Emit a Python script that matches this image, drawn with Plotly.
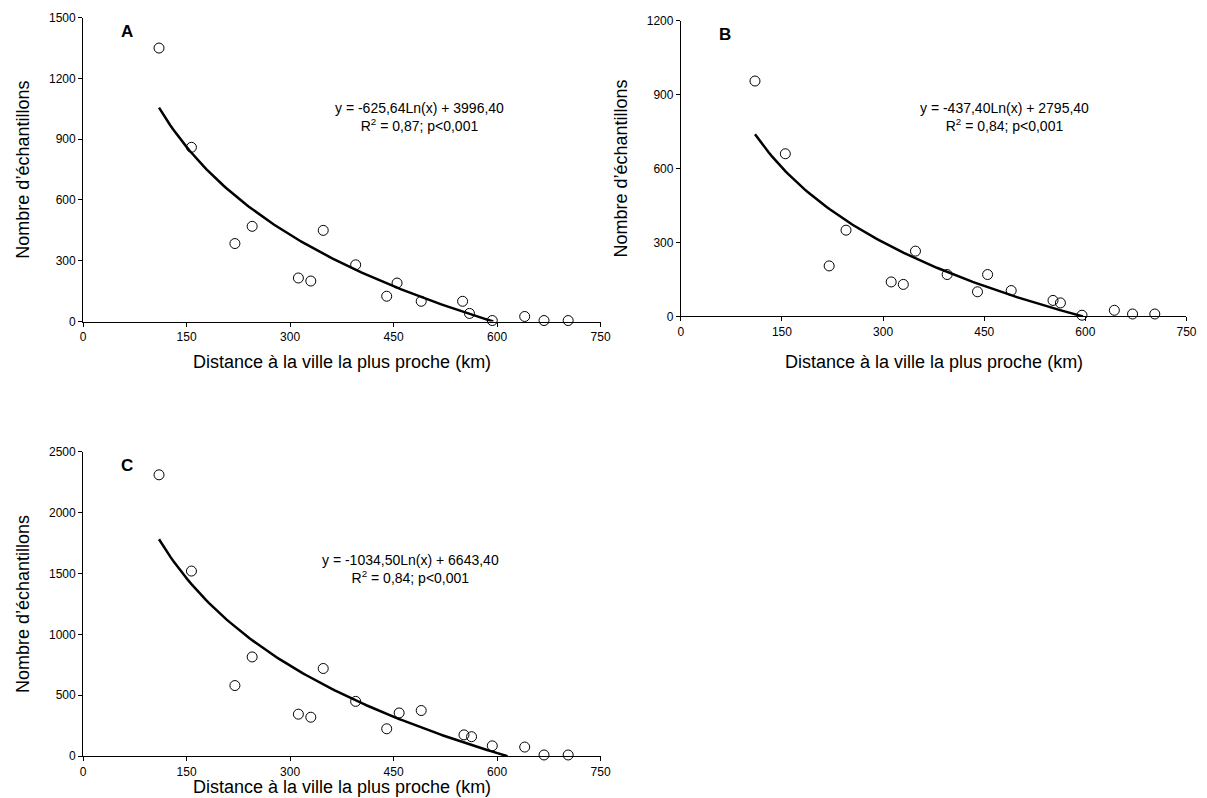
import numpy as np
import plotly.graph_objects as go

dist_a = [110, 157, 220, 245, 312, 330, 348, 395, 440, 455, 490, 550, 560, 593, 640, 668, 703]
count_a = [1350, 860, 385, 470, 215, 200, 450, 280, 125, 190, 100, 100, 40, 5, 25, 5, 5]
dist_b = [110, 155, 220, 245, 312, 330, 348, 395, 440, 455, 490, 552, 563, 595, 643, 670, 703]
count_b = [955, 660, 205, 350, 140, 130, 265, 170, 100, 170, 105, 65, 55, 5, 25, 10, 10]
dist_c = [110, 157, 220, 245, 312, 330, 348, 395, 440, 458, 490, 552, 563, 593, 640, 668, 703]
count_c = [2310, 1520, 580, 815, 345, 320, 720, 450, 225, 355, 375, 175, 160, 85, 75, 10, 10]

# trend coefficients as printed on the chart: y = a*Ln(x) + b
coef_a = (-625.64, 3996.40)
coef_b = (-437.40, 2795.40)
coef_c = (-1034.50, 6643.40)

panels = [
    dict(name="A", x=dist_a, y=count_a, coef=coef_a, ymax=1500, dtick=300,
         xd=[0.0604, 0.4938], yd=[0.609, 0.9966], ty=0.557,
         eq="y = -625,64Ln(x) + 3996,40", r2="R<sup>2</sup> = 0,87; p<0,001", ex=487, ey=1010),
    dict(name="B", x=dist_b, y=count_b, coef=coef_b, ymax=1200, dtick=300,
         xd=[0.561, 0.9845], yd=[0.6155, 0.9928], ty=0.557,
         eq="y = -437,40Ln(x) + 2795,40", r2="R<sup>2</sup> = 0,84; p<0,001", ex=480, ey=810),
    dict(name="C", x=dist_c, y=count_c, coef=coef_c, ymax=2500, dtick=500,
         xd=[0.0604, 0.4938], yd=[0.0546, 0.443], ty=0.0,
         eq="y = -1034,50Ln(x) + 6643,40", r2="R<sup>2</sup> = 0,84; p<0,001", ex=475, ey=1540),
]

fig = go.Figure()
for i, p in enumerate(panels):
    n = "" if i == 0 else str(i + 1)
    xa, ya = "x" + n, "y" + n
    a, b = p["coef"]
    xs = np.linspace(min(p["x"]), np.exp(-b / a), 120)
    fig.add_trace(go.Scatter(x=xs, y=a * np.log(xs) + b, mode="lines",
                             line=dict(color="black", width=2.5), xaxis=xa, yaxis=ya,
                             showlegend=False))
    fig.add_trace(go.Scatter(x=p["x"], y=p["y"], mode="markers", xaxis=xa, yaxis=ya,
                             marker=dict(symbol="circle-open", size=10, color="black",
                                         line=dict(width=1)),
                             showlegend=False, cliponaxis=False))
    common = dict(showgrid=False, zeroline=False, showline=True, linecolor="black",
                  linewidth=1, ticks="outside", ticklen=4, tickcolor="black",
                  tickfont=dict(size=12, family="Arial, Liberation Sans"))
    fig.layout["xaxis" + n] = dict(common, domain=p["xd"], range=[0, 750], dtick=150,
                                    anchor=ya)
    fig.layout["yaxis" + n] = dict(common, domain=p["yd"], range=[0, p["ymax"]],
                                    dtick=p["dtick"], anchor=xa,
                                    title=dict(text="Nombre d’échantillons",
                                               font=dict(size=18), standoff=14))
    fig.add_annotation(x=sum(p["xd"]) / 2, y=p["ty"], xref="paper", yref="paper",
                       xanchor="center", yanchor="middle" if p["ty"] > 0 else "bottom",
                       showarrow=False, text="Distance à la ville la plus proche (km)",
                       font=dict(size=18))
    fig.add_annotation(x=p["ex"], y=p["ey"], xref=xa, yref=ya, showarrow=False,
                       text=p["eq"] + "<br>" + p["r2"], font=dict(size=14), align="center")
    fig.add_annotation(x=p["xd"][0] + 0.03, y=p["yd"][1] - 0.003, xref="paper",
                       yref="paper", showarrow=False, xanchor="left", yanchor="top",
                       text="<b>" + p["name"] + "</b>", font=dict(size=17))

fig.update_layout(width=1207, height=798, margin=dict(l=0, r=0, t=0, b=0),
                  plot_bgcolor="white", paper_bgcolor="white",
                  font=dict(family="Arial, Liberation Sans", color="black"))
fig.write_html("out.html")
